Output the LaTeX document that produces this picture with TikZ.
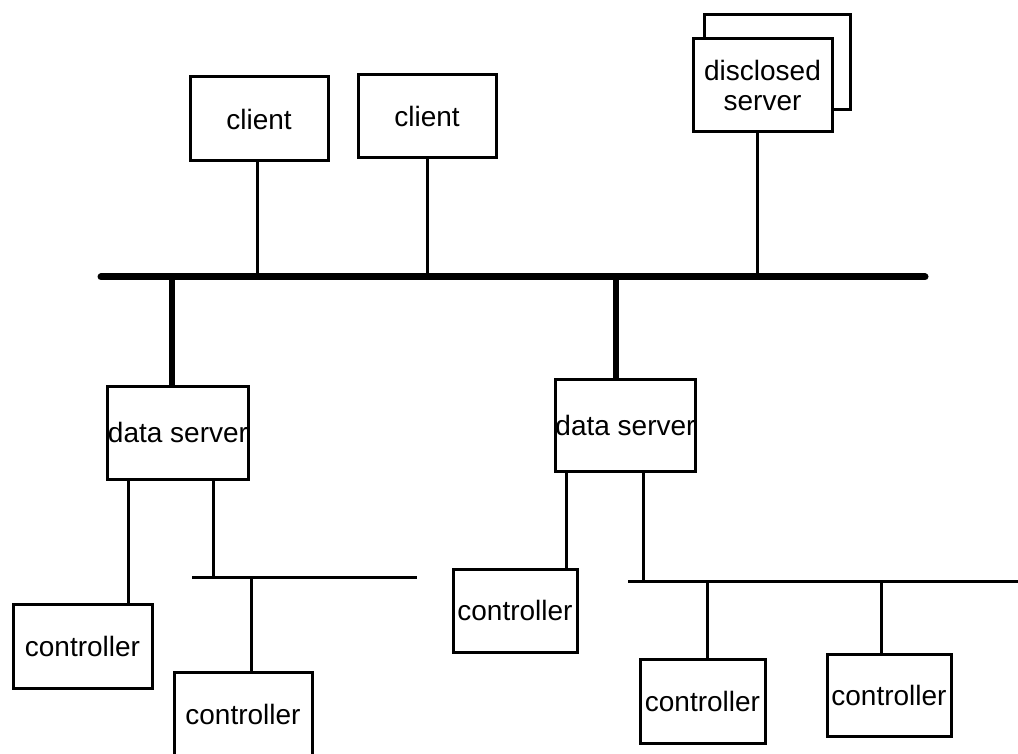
\documentclass[tikz,border=0pt]{standalone}
\usepackage{fontspec}
\setmainfont{Liberation Sans}
\begin{document}
\begin{tikzpicture}[x=1pt,y=-1pt,
  box/.style={draw=black, line width=3pt, fill=white, rectangle, inner sep=0pt,
    align=center, font=\fontsize{28}{30}\selectfont},
  bus/.style={line width=7pt, line cap=round},
  drop/.style={line width=6pt},
  wire/.style={line width=3pt},
  subbus/.style={line width=3pt}]
\fill[white] (0,0) rectangle (1018,754);
\useasboundingbox (0,0) rectangle (1018,754);
\clip (0,0) rectangle (1018,754);

% clients and the disclosed server (a stack of two boxes)
\node[box, minimum width=138pt, minimum height=84pt] (c1) at (259,119) {client};
\node[box, minimum width=138pt, minimum height=83pt] (c2) at (427,116.5) {client};
\node[box, minimum width=146pt, minimum height=95pt] (dsback) at (777,62.5) {};
\node[box, minimum width=139pt, minimum height=93pt] (disc) at (762.5,85.5) {disclosed\\server};

% data servers
\node[box, minimum width=138pt, minimum height=93pt] (ds1) at (178,432.5) {data server};
\node[box, minimum width=137pt, minimum height=92pt] (ds2) at (625.5,425) {data server};

% controllers
\node[box, minimum width=139pt, minimum height=84pt] (k1) at (82.5,646) {controller};
\node[box, minimum width=138pt, minimum height=84pt] (k2) at (243,714) {controller};
\node[box, minimum width=124pt, minimum height=83pt] (k3) at (515,610.5) {controller};
\node[box, minimum width=125pt, minimum height=84pt] (k4) at (702.5,701) {controller};
\node[box, minimum width=124pt, minimum height=82pt] (k5) at (889,695) {controller};

% main bus and its taps
\coordinate (busL) at (101,277);
\coordinate (busR) at (925,277);
\coordinate (tA) at (172,277);
\coordinate (tC1) at (257,277);
\coordinate (tC2) at (427,277);
\coordinate (tB) at (616,277);
\coordinate (tD) at (757,277);
\draw[bus] (busL) -- (busR);
\draw[wire] (tC1) -- (tC1 |- c1.south);
\draw[wire] (tC2) -- (tC2 |- c2.south);
\draw[wire] (tD) -- (tD |- disc.south);
\draw[drop] (tA) -- (tA |- ds1.north);
\draw[drop] (tB) -- (tB |- ds2.north);

% left segment
\coordinate (sL1) at (192,577);
\coordinate (sR1) at (417,577);
\coordinate (x11) at (128,577);
\coordinate (x12) at (213,577);
\coordinate (x13) at (251,577);
\draw[subbus] (sL1) -- (sR1);
\draw[wire] (x11 |- ds1.south) -- (x11 |- k1.north);
\draw[wire] (x12 |- ds1.south) -- (x12);
\draw[wire] (x13) -- (x13 |- k2.north);

% right segment
\coordinate (sL2) at (628,581);
\coordinate (sR2) at (1020,581);
\coordinate (x21) at (566,581);
\coordinate (x22) at (643,581);
\coordinate (x23) at (707,581);
\coordinate (x24) at (881,581);
\draw[subbus] (sL2) -- (sR2);
\draw[wire] (x21 |- ds2.south) -- (x21 |- k3.north);
\draw[wire] (x22 |- ds2.south) -- (x22);
\draw[wire] (x23) -- (x23 |- k4.north);
\draw[wire] (x24) -- (x24 |- k5.north);
\end{tikzpicture}
\end{document}
